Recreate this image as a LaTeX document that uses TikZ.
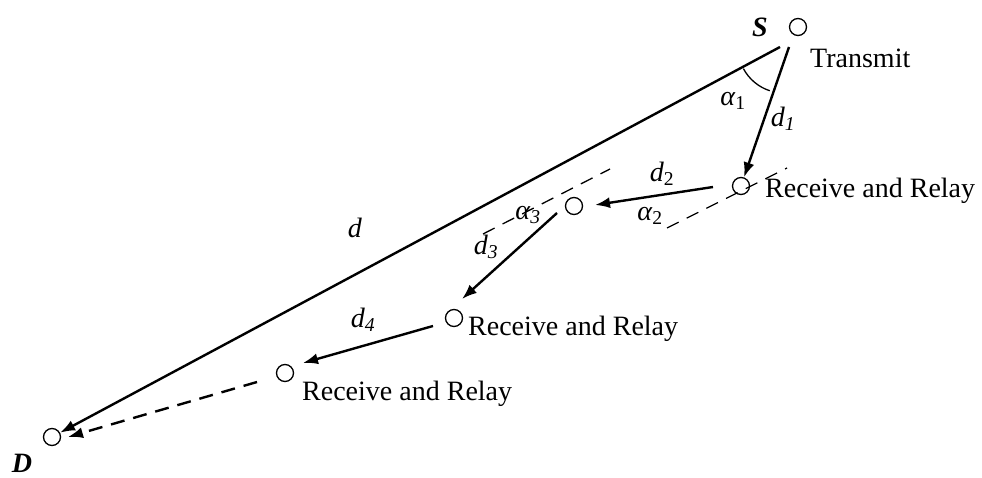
\documentclass[tikz,border=0pt]{standalone}
\usepackage{fontspec}
\setmainfont{Liberation Serif}
\usetikzlibrary{arrows.meta}

\begin{document}
\begin{tikzpicture}[
    x=1pt, y=1pt,
    font=\fontsize{28}{32}\selectfont,
    relay/.style={draw, circle, line width=1.3pt, minimum size=17pt, inner sep=0pt},
    arrow/.style={-{Latex[length=15pt,width=11pt]}, line width=2.4pt},
    guide/.style={dash pattern=on 13pt off 9pt, line width=1.3pt},
    txt/.style={anchor=base west, inner sep=0pt}
  ]
    \useasboundingbox (0,0) rectangle (982,477);

    % source, relays and destination
    \node[relay] (S) at (798,450) {};
    \node[relay] (R1) at (741,291) {};
    \node[relay] (R2) at (574,271) {};
    \node[relay] (R3) at (454,159) {};
    \node[relay] (R4) at (285,104) {};
    \node[relay] (D) at (52,40) {};

    \node (Slbl) at (760,450) {\textbf{\textit{S}}};
    \node (Dlbl) at (22,14) {\textbf{\textit{D}}};
    \node[txt] (tx) at (810,409) {Transmit};
    \node[txt] (rr1) at (765,279) {Receive and Relay};
    \node[txt] (rr3) at (468,142) {Receive and Relay};
    \node[txt] (rr4) at (302,77) {Receive and Relay};

    % tails of the long links
    \coordinate (dtop) at (780,430);
    \coordinate (d1top) at (789,430);
    \coordinate (apex) at (784,430);

    % hops
    \draw[arrow] (dtop) -- (D);
    \draw[arrow] (d1top) -- (R1);
    \draw[arrow] ([shift={(-28,-1)}]R1.center) -- ([shift={(21,1)}]R2.center);
    \draw[arrow] ([shift={(-17,-7)}]R2.center) -- ([shift={(8,19)}]R3.center);
    \draw[arrow] ([shift={(-21,-8)}]R3.center) -- ([shift={(18,10)}]R4.center);
    \draw[arrow, dash pattern=on 14pt off 9pt] ([shift={(-28,-9)}]R4.center) -- ([shift={(16,0)}]D.center);

    % guide lines and angle
    \draw[guide] ([shift={(-74,-42)}]R1.center) -- ([shift={(46,18)}]R1.center);
    \draw[guide] ([shift={(-91,-28)}]R2.center) -- ([shift={(36,37)}]R2.center);
    \draw[line width=1.3pt] (apex) ++(208:46) arc[start angle=208, end angle=252, radius=46];

    \node (alpha1) at (733,376) {\textit{α}\textsubscript{1}};
    \node (dl1) at (783,358) {\textit{d}\textsubscript{\textit{1}}};
    \node (dl2) at (662,303) {\textit{d}\textsubscript{2}};
    \node (alpha2) at (650,261) {\textit{α}\textsubscript{2}};
    \node (alpha3) at (528,262) {\textit{α}\textsubscript{\textit{3}}};
    \node (dl3) at (486,230) {\textit{d}\textsubscript{\textit{3}}};
    \node (dl4) at (363,157) {\textit{d}\textsubscript{\textit{4}}};
    \node (dl) at (355,249) {\textit{d}};
\end{tikzpicture}
\end{document}
